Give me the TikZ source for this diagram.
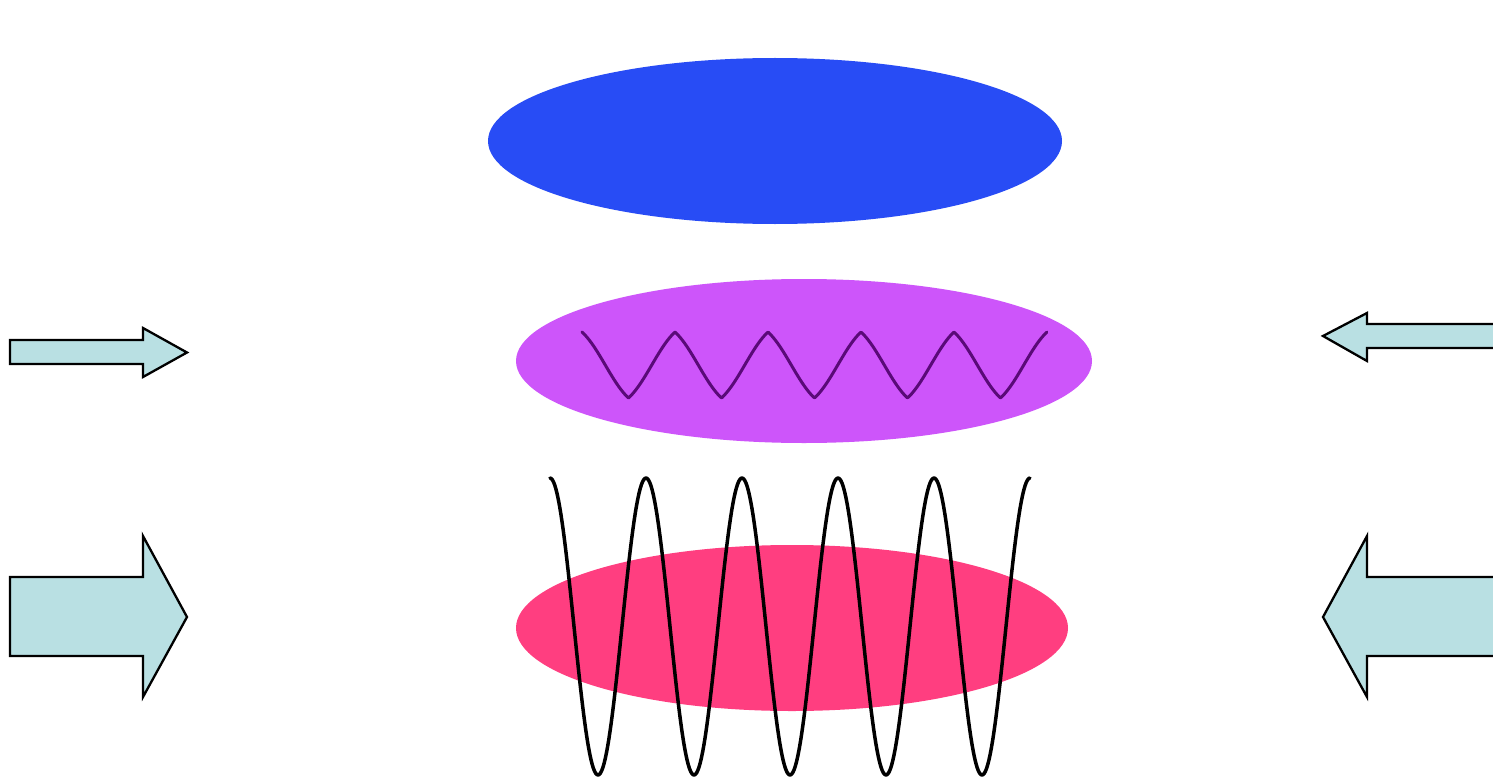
\documentclass[tikz,border=0pt]{standalone}
\usepackage{tikz}
\definecolor{discblue}{RGB}{40,76,245}
\definecolor{discpurple}{RGB}{205,85,250}
\definecolor{discpink}{RGB}{255,62,128}
\definecolor{wavepurple}{RGB}{90,10,120}
\definecolor{arrowfill}{RGB}{185,224,227}
\tikzset{
  disc/.style={draw=none},
  bigarrow/.style={draw=black, fill=arrowfill, line width=2.3pt, line join=miter},
  wave/.style={line width=3.5pt, line join=round, line cap=round}
}
\begin{document}
\begin{tikzpicture}[x=1pt,y=-1pt]
\clip (0,0) rectangle (1493,781);
\fill[white] (0,0) rectangle (1493,781);
% discs
\fill[disc, discblue] (775,141) ellipse [x radius=287pt, y radius=83pt];
\fill[disc, discpurple] (804,361) ellipse [x radius=288pt, y radius=82pt];
\fill[disc, discpink] (792,628) ellipse [x radius=276pt, y radius=83pt];
% waves
\draw[wave, wavepurple, line width=3pt] plot[domain=0:5, samples=400] ({582+93*\x}, {365-33*(0.65*asin(cos(360*\x))/90+0.35*cos(360*\x))});
\draw[wave, black] plot[domain=0:5, samples=400] ({550+96*\x}, {626.5-148.5*cos(360*\x)});
% left arrows
\draw[bigarrow] (10,340) -- (143,340) -- (143,328) -- (187,352.5) -- (143,377) -- (143,364) -- (10,364) -- cycle;
\draw[bigarrow] (10,577) -- (143,577) -- (143,536) -- (187,617) -- (143,697) -- (143,656) -- (10,656) -- cycle;
% right arrows
\draw[bigarrow] (1500,324) -- (1367,324) -- (1367,313) -- (1323,336) -- (1367,361) -- (1367,348) -- (1500,348) -- cycle;
\draw[bigarrow] (1500,577) -- (1367,577) -- (1367,536) -- (1323,617) -- (1367,697) -- (1367,656) -- (1500,656) -- cycle;
\end{tikzpicture}
\end{document}
